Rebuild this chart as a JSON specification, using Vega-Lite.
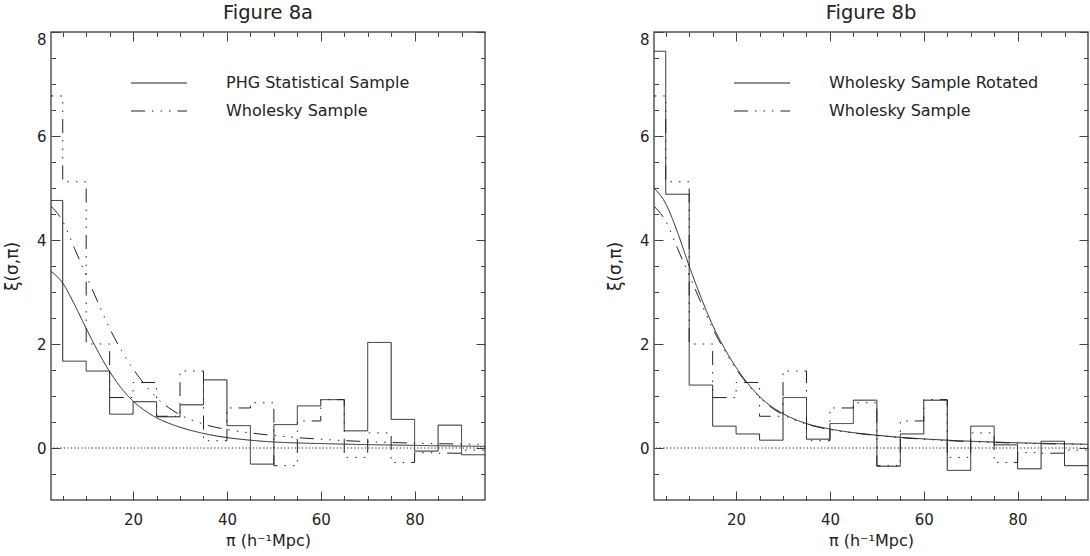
{
  "$schema": "https://vega.github.io/schema/vega-lite/v6.json",
  "padding": {"left": 2, "top": 2, "right": 0, "bottom": 0},
  "background": "white",
  "config": {
    "view": {"stroke": "#555", "strokeWidth": 1.5},
    "axis": {"domain": false, "grid": false, "labelFont": "DejaVu Sans", "labelFontSize": 15, "labelColor": "#222", "tickColor": "#444", "tickWidth": 1, "tickSize": 9, "offset": -9, "titleFont": "DejaVu Sans", "titleFontWeight": "normal", "titleColor": "#222", "labelOverlap": false},
    "title": {"font": "DejaVu Sans", "fontSize": 19.5, "fontWeight": "normal", "color": "#222", "offset": 8},
    "legend": {"orient": "none", "legendX": 100, "legendY": 43, "symbolType": "M-4,0H4", "symbolSize": 196, "symbolStrokeWidth": 1, "symbolStrokeColor": "#222", "labelFont": "DejaVu Sans", "labelFontSize": 16, "labelColor": "#222", "labelOffset": 59, "rowPadding": 12, "padding": 0, "labelLimit": 400}
  },
  "datasets": {
    "histA": [
      {"series": "PHG Statistical Sample", "pi": 0, "xi": 4.76},
      {"series": "PHG Statistical Sample", "pi": 5, "xi": 1.67},
      {"series": "PHG Statistical Sample", "pi": 10, "xi": 1.48},
      {"series": "PHG Statistical Sample", "pi": 15, "xi": 0.65},
      {"series": "PHG Statistical Sample", "pi": 20, "xi": 0.89},
      {"series": "PHG Statistical Sample", "pi": 25, "xi": 0.6},
      {"series": "PHG Statistical Sample", "pi": 30, "xi": 0.83},
      {"series": "PHG Statistical Sample", "pi": 35, "xi": 1.31},
      {"series": "PHG Statistical Sample", "pi": 40, "xi": 0.43},
      {"series": "PHG Statistical Sample", "pi": 45, "xi": -0.31},
      {"series": "PHG Statistical Sample", "pi": 50, "xi": 0.45},
      {"series": "PHG Statistical Sample", "pi": 55, "xi": 0.81},
      {"series": "PHG Statistical Sample", "pi": 60, "xi": 0.93},
      {"series": "PHG Statistical Sample", "pi": 65, "xi": 0.33},
      {"series": "PHG Statistical Sample", "pi": 70, "xi": 2.03},
      {"series": "PHG Statistical Sample", "pi": 75, "xi": 0.55},
      {"series": "PHG Statistical Sample", "pi": 80, "xi": -0.06},
      {"series": "PHG Statistical Sample", "pi": 85, "xi": 0.44},
      {"series": "PHG Statistical Sample", "pi": 90, "xi": -0.13},
      {"series": "PHG Statistical Sample", "pi": 95, "xi": -0.13},
      {"series": "Wholesky Sample", "pi": 0, "xi": 6.77},
      {"series": "Wholesky Sample", "pi": 5, "xi": 5.12},
      {"series": "Wholesky Sample", "pi": 10, "xi": 2.0},
      {"series": "Wholesky Sample", "pi": 15, "xi": 0.97},
      {"series": "Wholesky Sample", "pi": 20, "xi": 1.26},
      {"series": "Wholesky Sample", "pi": 25, "xi": 0.61},
      {"series": "Wholesky Sample", "pi": 30, "xi": 1.48},
      {"series": "Wholesky Sample", "pi": 35, "xi": 0.14},
      {"series": "Wholesky Sample", "pi": 40, "xi": 0.77},
      {"series": "Wholesky Sample", "pi": 45, "xi": 0.87},
      {"series": "Wholesky Sample", "pi": 50, "xi": -0.34},
      {"series": "Wholesky Sample", "pi": 55, "xi": 0.52},
      {"series": "Wholesky Sample", "pi": 60, "xi": 0.93},
      {"series": "Wholesky Sample", "pi": 65, "xi": -0.18},
      {"series": "Wholesky Sample", "pi": 70, "xi": 0.29},
      {"series": "Wholesky Sample", "pi": 75, "xi": -0.28},
      {"series": "Wholesky Sample", "pi": 80, "xi": -0.09},
      {"series": "Wholesky Sample", "pi": 85, "xi": -0.1},
      {"series": "Wholesky Sample", "pi": 90, "xi": -0.04},
      {"series": "Wholesky Sample", "pi": 95, "xi": -0.04}
    ],
    "histB": [
      {"series": "Wholesky Sample Rotated", "pi": 0, "xi": 7.63},
      {"series": "Wholesky Sample Rotated", "pi": 5, "xi": 4.88},
      {"series": "Wholesky Sample Rotated", "pi": 10, "xi": 1.21},
      {"series": "Wholesky Sample Rotated", "pi": 15, "xi": 0.42},
      {"series": "Wholesky Sample Rotated", "pi": 20, "xi": 0.27},
      {"series": "Wholesky Sample Rotated", "pi": 25, "xi": 0.15},
      {"series": "Wholesky Sample Rotated", "pi": 30, "xi": 0.97},
      {"series": "Wholesky Sample Rotated", "pi": 35, "xi": 0.17},
      {"series": "Wholesky Sample Rotated", "pi": 40, "xi": 0.47},
      {"series": "Wholesky Sample Rotated", "pi": 45, "xi": 0.92},
      {"series": "Wholesky Sample Rotated", "pi": 50, "xi": -0.35},
      {"series": "Wholesky Sample Rotated", "pi": 55, "xi": 0.27},
      {"series": "Wholesky Sample Rotated", "pi": 60, "xi": 0.92},
      {"series": "Wholesky Sample Rotated", "pi": 65, "xi": -0.43},
      {"series": "Wholesky Sample Rotated", "pi": 70, "xi": 0.42},
      {"series": "Wholesky Sample Rotated", "pi": 75, "xi": 0.06},
      {"series": "Wholesky Sample Rotated", "pi": 80, "xi": -0.4},
      {"series": "Wholesky Sample Rotated", "pi": 85, "xi": 0.13},
      {"series": "Wholesky Sample Rotated", "pi": 90, "xi": -0.34},
      {"series": "Wholesky Sample Rotated", "pi": 95, "xi": -0.34},
      {"series": "Wholesky Sample", "pi": 0, "xi": 6.77},
      {"series": "Wholesky Sample", "pi": 5, "xi": 5.12},
      {"series": "Wholesky Sample", "pi": 10, "xi": 2.0},
      {"series": "Wholesky Sample", "pi": 15, "xi": 0.97},
      {"series": "Wholesky Sample", "pi": 20, "xi": 1.26},
      {"series": "Wholesky Sample", "pi": 25, "xi": 0.61},
      {"series": "Wholesky Sample", "pi": 30, "xi": 1.48},
      {"series": "Wholesky Sample", "pi": 35, "xi": 0.14},
      {"series": "Wholesky Sample", "pi": 40, "xi": 0.77},
      {"series": "Wholesky Sample", "pi": 45, "xi": 0.87},
      {"series": "Wholesky Sample", "pi": 50, "xi": -0.34},
      {"series": "Wholesky Sample", "pi": 55, "xi": 0.52},
      {"series": "Wholesky Sample", "pi": 60, "xi": 0.93},
      {"series": "Wholesky Sample", "pi": 65, "xi": -0.18},
      {"series": "Wholesky Sample", "pi": 70, "xi": 0.29},
      {"series": "Wholesky Sample", "pi": 75, "xi": -0.28},
      {"series": "Wholesky Sample", "pi": 80, "xi": -0.09},
      {"series": "Wholesky Sample", "pi": 85, "xi": -0.1},
      {"series": "Wholesky Sample", "pi": 90, "xi": -0.04},
      {"series": "Wholesky Sample", "pi": 95, "xi": -0.04}
    ],
    "curveA": [
      {"series": "PHG Statistical Sample", "pi": 2.5, "xi": 3.4},
      {"series": "PHG Statistical Sample", "pi": 5, "xi": 3.17},
      {"series": "PHG Statistical Sample", "pi": 7.5, "xi": 2.76},
      {"series": "PHG Statistical Sample", "pi": 10, "xi": 2.3},
      {"series": "PHG Statistical Sample", "pi": 12.5, "xi": 1.86},
      {"series": "PHG Statistical Sample", "pi": 15, "xi": 1.47},
      {"series": "PHG Statistical Sample", "pi": 17.5, "xi": 1.15},
      {"series": "PHG Statistical Sample", "pi": 20, "xi": 0.9},
      {"series": "PHG Statistical Sample", "pi": 22.5, "xi": 0.72},
      {"series": "PHG Statistical Sample", "pi": 25, "xi": 0.58},
      {"series": "PHG Statistical Sample", "pi": 27.5, "xi": 0.48},
      {"series": "PHG Statistical Sample", "pi": 30, "xi": 0.4},
      {"series": "PHG Statistical Sample", "pi": 35, "xi": 0.28},
      {"series": "PHG Statistical Sample", "pi": 40, "xi": 0.2},
      {"series": "PHG Statistical Sample", "pi": 45, "xi": 0.15},
      {"series": "PHG Statistical Sample", "pi": 50, "xi": 0.115},
      {"series": "PHG Statistical Sample", "pi": 55, "xi": 0.097},
      {"series": "PHG Statistical Sample", "pi": 60, "xi": 0.085},
      {"series": "PHG Statistical Sample", "pi": 65, "xi": 0.074},
      {"series": "PHG Statistical Sample", "pi": 70, "xi": 0.065},
      {"series": "PHG Statistical Sample", "pi": 75, "xi": 0.057},
      {"series": "PHG Statistical Sample", "pi": 80, "xi": 0.05},
      {"series": "PHG Statistical Sample", "pi": 85, "xi": 0.043},
      {"series": "PHG Statistical Sample", "pi": 90, "xi": 0.037},
      {"series": "PHG Statistical Sample", "pi": 95, "xi": 0.032},
      {"series": "Wholesky Sample", "pi": 2.5, "xi": 4.65},
      {"series": "Wholesky Sample", "pi": 5, "xi": 4.36},
      {"series": "Wholesky Sample", "pi": 7.5, "xi": 3.84},
      {"series": "Wholesky Sample", "pi": 10, "xi": 3.32},
      {"series": "Wholesky Sample", "pi": 12.5, "xi": 2.8},
      {"series": "Wholesky Sample", "pi": 15, "xi": 2.3},
      {"series": "Wholesky Sample", "pi": 17.5, "xi": 1.88},
      {"series": "Wholesky Sample", "pi": 20, "xi": 1.52},
      {"series": "Wholesky Sample", "pi": 22.5, "xi": 1.22},
      {"series": "Wholesky Sample", "pi": 25, "xi": 0.97},
      {"series": "Wholesky Sample", "pi": 27.5, "xi": 0.78},
      {"series": "Wholesky Sample", "pi": 30, "xi": 0.64},
      {"series": "Wholesky Sample", "pi": 35, "xi": 0.46},
      {"series": "Wholesky Sample", "pi": 40, "xi": 0.355},
      {"series": "Wholesky Sample", "pi": 45, "xi": 0.29},
      {"series": "Wholesky Sample", "pi": 50, "xi": 0.24},
      {"series": "Wholesky Sample", "pi": 55, "xi": 0.2},
      {"series": "Wholesky Sample", "pi": 60, "xi": 0.168},
      {"series": "Wholesky Sample", "pi": 65, "xi": 0.142},
      {"series": "Wholesky Sample", "pi": 70, "xi": 0.122},
      {"series": "Wholesky Sample", "pi": 75, "xi": 0.106},
      {"series": "Wholesky Sample", "pi": 80, "xi": 0.093},
      {"series": "Wholesky Sample", "pi": 85, "xi": 0.083},
      {"series": "Wholesky Sample", "pi": 90, "xi": 0.076},
      {"series": "Wholesky Sample", "pi": 95, "xi": 0.07}
    ],
    "curveB": [
      {"series": "Wholesky Sample Rotated", "pi": 2.5, "xi": 5.0},
      {"series": "Wholesky Sample Rotated", "pi": 5, "xi": 4.7},
      {"series": "Wholesky Sample Rotated", "pi": 7.5, "xi": 4.15},
      {"series": "Wholesky Sample Rotated", "pi": 10, "xi": 3.5},
      {"series": "Wholesky Sample Rotated", "pi": 12.5, "xi": 2.9},
      {"series": "Wholesky Sample Rotated", "pi": 15, "xi": 2.36},
      {"series": "Wholesky Sample Rotated", "pi": 17.5, "xi": 1.92},
      {"series": "Wholesky Sample Rotated", "pi": 20, "xi": 1.55},
      {"series": "Wholesky Sample Rotated", "pi": 22.5, "xi": 1.24},
      {"series": "Wholesky Sample Rotated", "pi": 25, "xi": 0.99},
      {"series": "Wholesky Sample Rotated", "pi": 27.5, "xi": 0.8},
      {"series": "Wholesky Sample Rotated", "pi": 30, "xi": 0.66},
      {"series": "Wholesky Sample Rotated", "pi": 35, "xi": 0.47},
      {"series": "Wholesky Sample Rotated", "pi": 40, "xi": 0.365},
      {"series": "Wholesky Sample Rotated", "pi": 45, "xi": 0.295},
      {"series": "Wholesky Sample Rotated", "pi": 50, "xi": 0.245},
      {"series": "Wholesky Sample Rotated", "pi": 55, "xi": 0.205},
      {"series": "Wholesky Sample Rotated", "pi": 60, "xi": 0.175},
      {"series": "Wholesky Sample Rotated", "pi": 65, "xi": 0.15},
      {"series": "Wholesky Sample Rotated", "pi": 70, "xi": 0.13},
      {"series": "Wholesky Sample Rotated", "pi": 75, "xi": 0.115},
      {"series": "Wholesky Sample Rotated", "pi": 80, "xi": 0.1},
      {"series": "Wholesky Sample Rotated", "pi": 85, "xi": 0.09},
      {"series": "Wholesky Sample Rotated", "pi": 90, "xi": 0.08},
      {"series": "Wholesky Sample Rotated", "pi": 95, "xi": 0.072},
      {"series": "Wholesky Sample", "pi": 2.5, "xi": 4.65},
      {"series": "Wholesky Sample", "pi": 5, "xi": 4.36},
      {"series": "Wholesky Sample", "pi": 7.5, "xi": 3.84},
      {"series": "Wholesky Sample", "pi": 10, "xi": 3.32},
      {"series": "Wholesky Sample", "pi": 12.5, "xi": 2.8},
      {"series": "Wholesky Sample", "pi": 15, "xi": 2.3},
      {"series": "Wholesky Sample", "pi": 17.5, "xi": 1.88},
      {"series": "Wholesky Sample", "pi": 20, "xi": 1.52},
      {"series": "Wholesky Sample", "pi": 22.5, "xi": 1.22},
      {"series": "Wholesky Sample", "pi": 25, "xi": 0.97},
      {"series": "Wholesky Sample", "pi": 27.5, "xi": 0.78},
      {"series": "Wholesky Sample", "pi": 30, "xi": 0.64},
      {"series": "Wholesky Sample", "pi": 35, "xi": 0.46},
      {"series": "Wholesky Sample", "pi": 40, "xi": 0.355},
      {"series": "Wholesky Sample", "pi": 45, "xi": 0.29},
      {"series": "Wholesky Sample", "pi": 50, "xi": 0.24},
      {"series": "Wholesky Sample", "pi": 55, "xi": 0.2},
      {"series": "Wholesky Sample", "pi": 60, "xi": 0.168},
      {"series": "Wholesky Sample", "pi": 65, "xi": 0.142},
      {"series": "Wholesky Sample", "pi": 70, "xi": 0.122},
      {"series": "Wholesky Sample", "pi": 75, "xi": 0.106},
      {"series": "Wholesky Sample", "pi": 80, "xi": 0.093},
      {"series": "Wholesky Sample", "pi": 85, "xi": 0.083},
      {"series": "Wholesky Sample", "pi": 90, "xi": 0.076},
      {"series": "Wholesky Sample", "pi": 95, "xi": 0.07}
    ],
    "zero": [{"xi": 0}]
  },
  "spacing": 169,
  "bounds": "flush",
  "resolve": {"scale": {"strokeDash": "independent"}, "legend": {"strokeDash": "independent"}},
  "hconcat": [
    {
      "width": 434,
      "height": 468,
      "title": {"text": "Figure 8a"},
      "resolve": {"axis": {"x": "independent", "y": "independent"}},
      "layer": [
        {
          "data": {"name": "histA"},
          "mark": {"type": "line", "interpolate": "step-after", "clip": true, "stroke": "#222", "strokeWidth": 1},
          "encoding": {
            "x": {"field": "pi", "type": "quantitative", "scale": {"domain": [2.5, 95], "nice": false, "zero": false},
              "axis": {"orient": "bottom", "values": [5, 10, 15, 20, 25, 30, 35, 40, 45, 50, 55, 60, 65, 70, 75, 80, 85, 90], "labelExpr": "datum.value % 20 === 0 ? format(datum.value, 'd') : ''", "tickDash": {"condition": {"test": "datum.value % 20 === 0", "value": [9, 1]}, "value": [0, 4.5, 4.5, 1]}, "labelPadding": 12.7, "title": "π (h⁻¹Mpc)", "titleFontSize": 16, "titlePadding": 5}},
            "y": {"field": "xi", "type": "quantitative", "scale": {"domain": [-1, 8], "nice": false, "zero": false},
              "axis": {"orient": "left", "values": [-0.5, 0, 0.5, 1, 1.5, 2, 2.5, 3, 3.5, 4, 4.5, 5, 5.5, 6, 6.5, 7, 7.5, 8], "labelExpr": "datum.value % 2 === 0 ? format(datum.value, 'd') : ''", "tickDash": {"condition": {"test": "datum.value % 2 === 0", "value": [9, 1]}, "value": [0, 4.5, 4.5, 1]}, "labelPadding": 5, "labelFlush": true, "title": "ξ(σ,π)", "titleFontSize": 17, "titlePadding": 15}},
            "strokeDash": {"field": "series", "type": "nominal",
              "scale": {"domain": ["PHG Statistical Sample", "Wholesky Sample"], "range": [[1, 0], [14, 7, 1.5, 7, 1.5, 7, 1.5, 7]]},
              "legend": {"title": null}}
          }
        },
        {
          "data": {"name": "curveA"},
          "mark": {"type": "line", "interpolate": "monotone", "clip": true, "stroke": "#222", "strokeWidth": 1},
          "encoding": {
            "x": {"field": "pi", "type": "quantitative",
              "axis": {"orient": "top", "values": [5, 10, 15, 20, 25, 30, 35, 40, 45, 50, 55, 60, 65, 70, 75, 80, 85, 90], "labels": false, "title": null, "tickDash": {"condition": {"test": "datum.value % 20 === 0", "value": [9, 1]}, "value": [0, 4.5, 4.5, 1]}}},
            "y": {"field": "xi", "type": "quantitative",
              "axis": {"orient": "right", "values": [-0.5, 0, 0.5, 1, 1.5, 2, 2.5, 3, 3.5, 4, 4.5, 5, 5.5, 6, 6.5, 7, 7.5, 8], "labels": false, "title": null, "tickDash": {"condition": {"test": "datum.value % 2 === 0", "value": [9, 1]}, "value": [0, 4.5, 4.5, 1]}}},
            "strokeDash": {"field": "series", "type": "nominal"}
          }
        },
        {
          "data": {"name": "zero"},
          "mark": {"type": "rule", "stroke": "#222", "strokeWidth": 1, "strokeDash": [1.2, 2.3]},
          "encoding": {"y": {"field": "xi", "type": "quantitative", "axis": null}}
        }
      ]
    },
    {
      "width": 434,
      "height": 468,
      "title": {"text": "Figure 8b"},
      "resolve": {"axis": {"x": "independent", "y": "independent"}},
      "layer": [
        {
          "data": {"name": "histB"},
          "mark": {"type": "line", "interpolate": "step-after", "clip": true, "stroke": "#222", "strokeWidth": 1},
          "encoding": {
            "x": {"field": "pi", "type": "quantitative", "scale": {"domain": [2.5, 95], "nice": false, "zero": false},
              "axis": {"orient": "bottom", "values": [5, 10, 15, 20, 25, 30, 35, 40, 45, 50, 55, 60, 65, 70, 75, 80, 85, 90], "labelExpr": "datum.value % 20 === 0 ? format(datum.value, 'd') : ''", "tickDash": {"condition": {"test": "datum.value % 20 === 0", "value": [9, 1]}, "value": [0, 4.5, 4.5, 1]}, "labelPadding": 12.7, "title": "π (h⁻¹Mpc)", "titleFontSize": 16, "titlePadding": 5}},
            "y": {"field": "xi", "type": "quantitative", "scale": {"domain": [-1, 8], "nice": false, "zero": false},
              "axis": {"orient": "left", "values": [-0.5, 0, 0.5, 1, 1.5, 2, 2.5, 3, 3.5, 4, 4.5, 5, 5.5, 6, 6.5, 7, 7.5, 8], "labelExpr": "datum.value % 2 === 0 ? format(datum.value, 'd') : ''", "tickDash": {"condition": {"test": "datum.value % 2 === 0", "value": [9, 1]}, "value": [0, 4.5, 4.5, 1]}, "labelPadding": 5, "labelFlush": true, "title": "ξ(σ,π)", "titleFontSize": 17, "titlePadding": 15}},
            "strokeDash": {"field": "series", "type": "nominal",
              "scale": {"domain": ["Wholesky Sample Rotated", "Wholesky Sample"], "range": [[1, 0], [14, 7, 1.5, 7, 1.5, 7, 1.5, 7]]},
              "legend": {"title": null}}
          }
        },
        {
          "data": {"name": "curveB"},
          "mark": {"type": "line", "interpolate": "monotone", "clip": true, "stroke": "#222", "strokeWidth": 1},
          "encoding": {
            "x": {"field": "pi", "type": "quantitative",
              "axis": {"orient": "top", "values": [5, 10, 15, 20, 25, 30, 35, 40, 45, 50, 55, 60, 65, 70, 75, 80, 85, 90], "labels": false, "title": null, "tickDash": {"condition": {"test": "datum.value % 20 === 0", "value": [9, 1]}, "value": [0, 4.5, 4.5, 1]}}},
            "y": {"field": "xi", "type": "quantitative",
              "axis": {"orient": "right", "values": [-0.5, 0, 0.5, 1, 1.5, 2, 2.5, 3, 3.5, 4, 4.5, 5, 5.5, 6, 6.5, 7, 7.5, 8], "labels": false, "title": null, "tickDash": {"condition": {"test": "datum.value % 2 === 0", "value": [9, 1]}, "value": [0, 4.5, 4.5, 1]}}},
            "strokeDash": {"field": "series", "type": "nominal"}
          }
        },
        {
          "data": {"name": "zero"},
          "mark": {"type": "rule", "stroke": "#222", "strokeWidth": 1, "strokeDash": [1.2, 2.3]},
          "encoding": {"y": {"field": "xi", "type": "quantitative", "axis": null}}
        }
      ]
    }
  ]
}
